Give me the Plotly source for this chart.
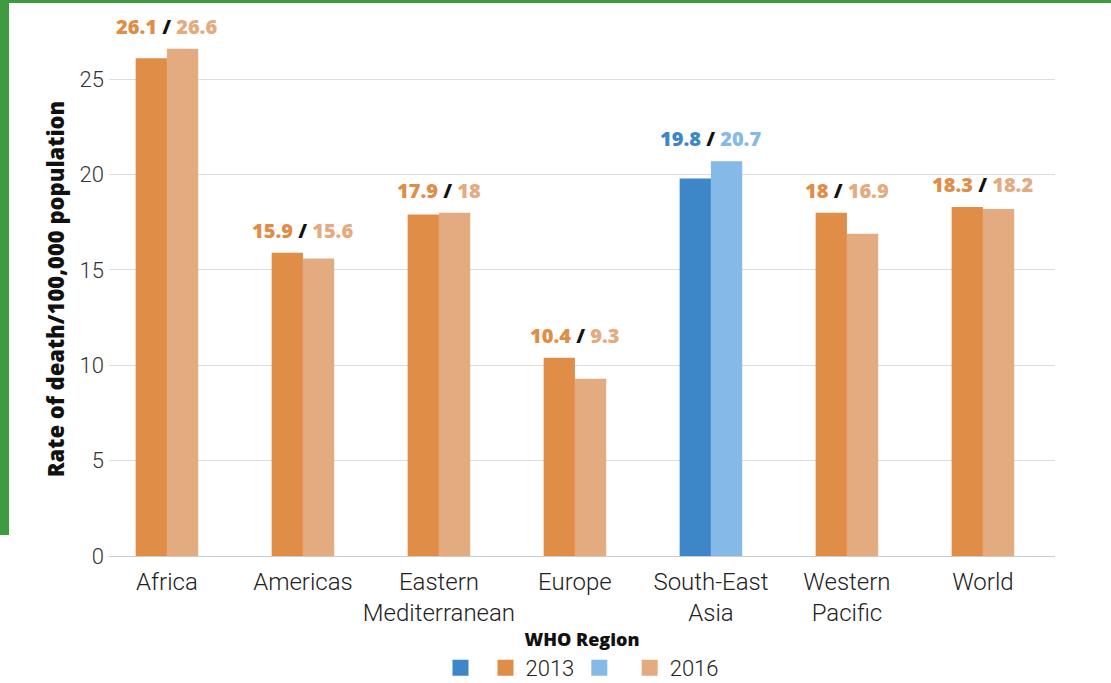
import plotly.graph_objects as go

regions = ["Africa", "Americas", "Eastern<br>Mediterranean", "Europe",
           "South-East<br>Asia", "Western<br>Pacific", "World"]
rate_2013 = [26.1, 15.9, 17.9, 10.4, 19.8, 18.0, 18.3]
rate_2016 = [26.6, 15.6, 18.0, 9.3, 20.7, 16.9, 18.2]
label_2013 = ["26.1", "15.9", "17.9", "10.4", "19.8", "18", "18.3"]
label_2016 = ["26.6", "15.6", "18", "9.3", "20.7", "16.9", "18.2"]
blue_region = "South-East<br>Asia"
years = ["2013", "2016"]

ORANGE13 = "#e08d47"
ORANGE16 = "#e3ab7f"
BLUE13 = "#3d87c8"
BLUE16 = "#84b9e8"
GREEN = "#3f9b3f"

W, H = 1111, 683
L, R, T, B = 109, 56, 22, 127
pw = W - L - R
ph = H - T - B

fig = go.Figure()

def split(vals, blue):
    out = []
    for r, v in zip(regions, vals):
        if (r == blue_region) == blue:
            out.append(v)
        else:
            out.append(None)
    return out

fig.add_trace(go.Bar(x=regions, y=split(rate_2013, True), offsetgroup="a", showlegend=False,
                     marker=dict(color=BLUE13, line=dict(width=0))))
fig.add_trace(go.Bar(x=regions, y=split(rate_2013, False), offsetgroup="a", showlegend=False,
                     marker=dict(color=ORANGE13, line=dict(width=0))))
fig.add_trace(go.Bar(x=regions, y=split(rate_2016, True), offsetgroup="b", showlegend=False,
                     marker=dict(color=BLUE16, line=dict(width=0))))
fig.add_trace(go.Bar(x=regions, y=split(rate_2016, False), offsetgroup="b", showlegend=False,
                     marker=dict(color=ORANGE16, line=dict(width=0))))

# legend entries (colour keys for each year)
for name, col in [("", BLUE13), (years[0], ORANGE13), (" ", BLUE16), (years[1], ORANGE16)]:
    fig.add_trace(go.Scatter(x=[None], y=[None], mode="markers", name=name,
                             marker=dict(symbol="square", size=22, color=col,
                                         line=dict(width=0))))

for r, a, b, la, lb in zip(regions, rate_2013, rate_2016, label_2013, label_2016):
    c1, c2 = (BLUE13, BLUE16) if r == blue_region else (ORANGE13, ORANGE16)
    txt = (f"<span style='color:{c1}'>{la}</span>"
           f"<span style='color:#111'> / </span>"
           f"<span style='color:{c2}'>{lb}</span>")
    fig.add_annotation(x=r, y=max(a, b), text=txt, showarrow=False,
                       yanchor="bottom", yshift=7,
                       font=dict(family="Open Sans", size=20, weight=800))

# green frame
fig.add_shape(type="rect", xref="paper", yref="paper",
              x0=-L / pw, x1=(W - L) / pw, y0=1 + (T - 3) / ph, y1=1 + T / ph,
              fillcolor=GREEN, line=dict(width=0), layer="above")
fig.add_shape(type="rect", xref="paper", yref="paper",
              x0=-L / pw, x1=(9 - L) / pw, y0=(H - B - 535) / ph, y1=1 + T / ph,
              fillcolor=GREEN, line=dict(width=0), layer="above")

fig.update_layout(
    width=W, height=H,
    margin=dict(l=L, r=R, t=T, b=B, autoexpand=False),
    paper_bgcolor="white", plot_bgcolor="white",
    barmode="group", bargap=0.54, bargroupgap=0,
    font=dict(family="Roboto", color="#222"),
    showlegend=True,
    legend=dict(orientation="h", x=0.5, xanchor="center",
                y=-(668 - (H - B)) / ph, yanchor="middle",
                font=dict(size=22, color="#222", weight=300), traceorder="normal",
                itemwidth=30, tracegroupgap=0),
    xaxis=dict(range=[-0.426, 6.53], showgrid=False, showline=False, ticks="",
               automargin=False, ticklabelstandoff=9,
               tickfont=dict(size=24, color="#222", weight=300),
               title=dict(text="WHO Region",
                          font=dict(family="Open Sans", size=18, color="#111", weight=800),
                          standoff=7)),
    yaxis=dict(range=[0, 28], tickvals=[0, 5, 10, 15, 20, 25], showgrid=True,
               gridcolor="#dddddd", gridwidth=1, zeroline=True, zerolinecolor="#cccccc",
               zerolinewidth=1, showline=False, ticks="", ticklabelstandoff=4,
               automargin=False,
               tickfont=dict(size=22, color="#333", weight=300),
               title=dict(text="Rate of death/100,000 population",
                          font=dict(family="Open Sans", size=22, color="#111", weight=800),
                          standoff=8)),
)

fig.write_html("out.html", config={"displayModeBar": False},
               post_script="document.body.style.margin='0';")
